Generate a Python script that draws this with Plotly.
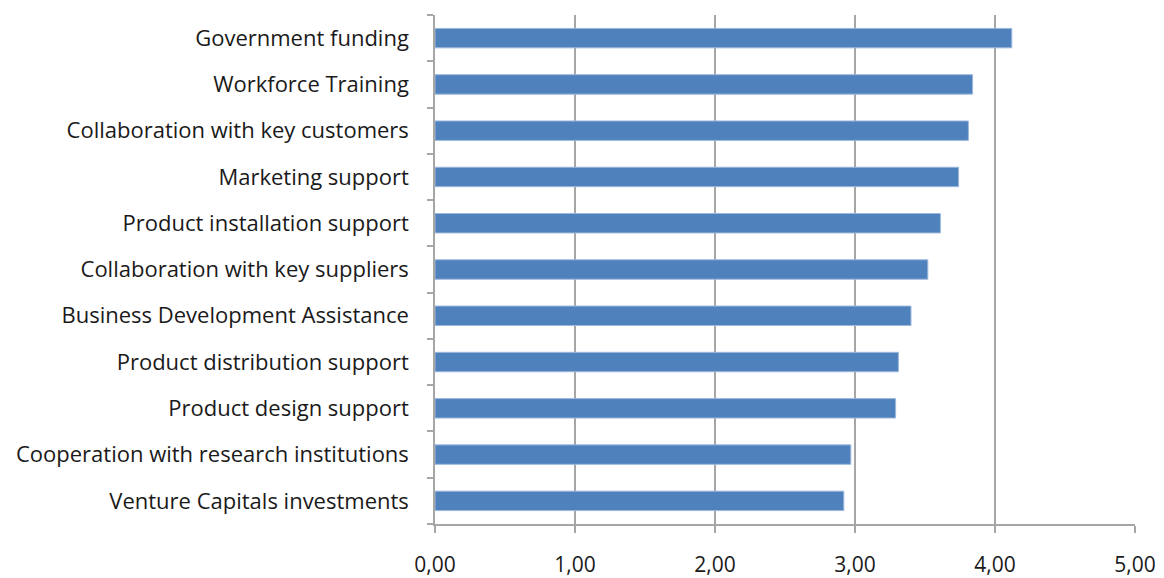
import plotly.graph_objects as go

# Categories listed bottom-to-top as they appear on the y axis
categories = [
    "Venture Capitals investments",
    "Cooperation with research institutions",
    "Product design support",
    "Product distribution support",
    "Business Development Assistance",
    "Collaboration with key suppliers",
    "Product installation support",
    "Marketing support",
    "Collaboration with key customers",
    "Workforce Training",
    "Government funding",
]
scores = [2.92, 2.97, 3.29, 3.31, 3.40, 3.52, 3.61, 3.74, 3.81, 3.84, 4.12]
x_ticks = [0, 1, 2, 3, 4, 5]

axis_grey = "#a6a6a6"
text_col = "#1a1a1a"
font_family = "Open Sans, Liberation Sans, sans-serif"

fig = go.Figure(
    go.Bar(
        x=scores,
        y=categories,
        orientation="h",
        marker=dict(color="#4F81BD", line=dict(color="#9db8dc", width=1)),
        width=0.42,
    )
)

fig.update_layout(
    width=1164,
    height=578,
    margin=dict(l=435, r=29, t=15, b=54, autoexpand=False),
    paper_bgcolor="white",
    plot_bgcolor="white",
    separators=",.",
    showlegend=False,
    font=dict(family=font_family, color=text_col),
)

fig.update_xaxes(
    range=[0, 5],
    tickvals=x_ticks,
    tickformat=".2f",
    automargin=False,
    showgrid=True,
    gridcolor=axis_grey,
    gridwidth=1.5,
    showline=True,
    linecolor=axis_grey,
    linewidth=1.5,
    ticks="outside",
    ticklen=7,
    tickcolor=axis_grey,
    tickwidth=1.5,
    ticklabelstandoff=14,
    tickfont=dict(size=21, color=text_col),
    zeroline=False,
)

fig.update_yaxes(
    type="category",
    categoryorder="array",
    categoryarray=categories,
    automargin=False,
    showgrid=False,
    showline=True,
    linecolor=axis_grey,
    linewidth=1.5,
    ticks="outside",
    tickson="boundaries",
    ticklen=6,
    tickcolor=axis_grey,
    tickwidth=1.5,
    ticklabelstandoff=20,
    tickfont=dict(size=22, color=text_col),
)

fig.write_html("out.html")
